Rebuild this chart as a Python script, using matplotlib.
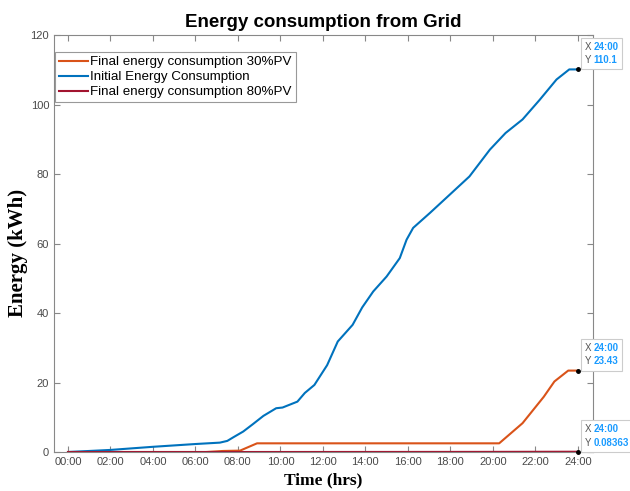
import matplotlib
matplotlib.use("Agg")
import matplotlib.pyplot as plt
from matplotlib.offsetbox import TextArea, HPacker, VPacker, AnnotationBbox

plt.rcParams['font.family'] = ['Liberation Sans', 'DejaVu Sans']

# cumulative grid energy over the day (hours, kWh)
hrs_initial = [0, 2, 4, 6, 7.15, 7.5, 7.8, 8.25, 8.7, 9.2, 9.8, 10.1, 10.8, 11.15, 11.6,
               12.2, 12.7, 13.4, 13.85, 14.37, 15.0, 15.62, 15.94, 16.25, 17.04, 17.98,
               18.9, 19.86, 20.6, 21.4, 22.2, 23.0, 23.6, 24]
e_initial = [0, 0.6, 1.5, 2.3, 2.7, 3.2, 4.3, 5.9, 8.0, 10.4, 12.6, 12.8, 14.5, 17.0, 19.3,
             25.0, 31.8, 36.6, 41.6, 46.2, 50.5, 55.8, 61.1, 64.5, 68.8, 74.1,
             79.3, 87.0, 91.8, 95.7, 101.3, 107.2, 110.1, 110.1]

hrs_30 = [0, 6.5, 7.3, 8.1, 8.9, 20.3, 21.4, 22.4, 22.9, 23.55, 24]
e_30 = [0, 0, 0.3, 0.4, 2.5, 2.5, 8.3, 15.9, 20.3, 23.43, 23.43]

hrs_80 = [0, 8, 16, 20, 24]
e_80 = [0, 0, 0.02, 0.04, 0.08363]

xticks = list(range(0, 25, 2))
xticklabels = ["%02d:00" % h for h in xticks]
yticks = [0, 20, 40, 60, 80, 100, 120]

# datatips at the end of each curve
tips = [(24, 110.1, "24:00", "110.1"),
        (24, 23.43, "24:00", "23.43"),
        (24, 0.08363, "24:00", "0.08363")]

fig = plt.figure(figsize=(6.3, 4.91), dpi=100)
ax = fig.add_axes([0.0857, 0.0794, 0.855, 0.8493])

ax.plot(hrs_30, e_30, color='#D95319', lw=1.5, label='Final energy consumption 30%PV')
ax.plot(hrs_initial, e_initial, color='#0072BD', lw=1.5, label='Initial Energy Consumption')
ax.plot(hrs_80, e_80, color='#A2142F', lw=1.5, label='Final energy consumption 80%PV')

ax.set_xlim(-0.66, 24.7)
ax.set_ylim(0, 120)
ax.set_xticks(xticks)
ax.set_xticklabels(xticklabels)
ax.set_yticks(yticks)
ax.tick_params(direction='in', length=4, width=0.8, colors='#888888', labelcolor='#4a4a4a',
               labelsize=8, top=True, right=True)
for s in ax.spines.values():
    s.set_color('#888888')
    s.set_linewidth(0.8)

ax.set_title('Energy consumption from Grid', fontsize=13.5, fontweight='bold', pad=6)
ax.set_xlabel('Time (hrs)', family='Liberation Serif', fontsize=12.5, fontweight='bold', labelpad=4)
ax.set_ylabel('Energy (kWh)', family='Liberation Serif', fontsize=15, fontweight='bold')
ax.yaxis.label.set_va('center')
ax.yaxis.set_label_coords(-0.067, 0.477)

leg = ax.legend(loc='upper left', bbox_to_anchor=(0.002, 0.959), borderaxespad=0,
                fontsize=9.6, fancybox=False, framealpha=1, edgecolor='#999999',
                handlelength=2.2, handletextpad=0.15, labelspacing=0.2, borderpad=0.3)
leg.get_frame().set_linewidth(0.8)

for x, y, xs, ys in tips:
    ax.plot([x], [y], 'o', color='black', ms=2.5, clip_on=False, zorder=5)
    rows = []
    for k, v in (("X", xs), ("Y", ys)):
        rows.append(HPacker(children=[
            TextArea(k, textprops=dict(color='#555555', fontsize=7)),
            TextArea(v, textprops=dict(color='#1a9bff', fontsize=7, fontweight='bold'))],
            pad=0, sep=1.5))
    box = VPacker(children=rows, pad=0, sep=2.5, align='left')
    ab = AnnotationBbox(box, (x, y), xybox=(5, 3), xycoords='data', boxcoords='offset points',
                        box_alignment=(0, 0), frameon=True, pad=0.3,
                        bboxprops=dict(edgecolor='#cccccc', facecolor='white', lw=0.8),
                        annotation_clip=False)
    ax.add_artist(ab)

fig.savefig('out.png', dpi=100)
